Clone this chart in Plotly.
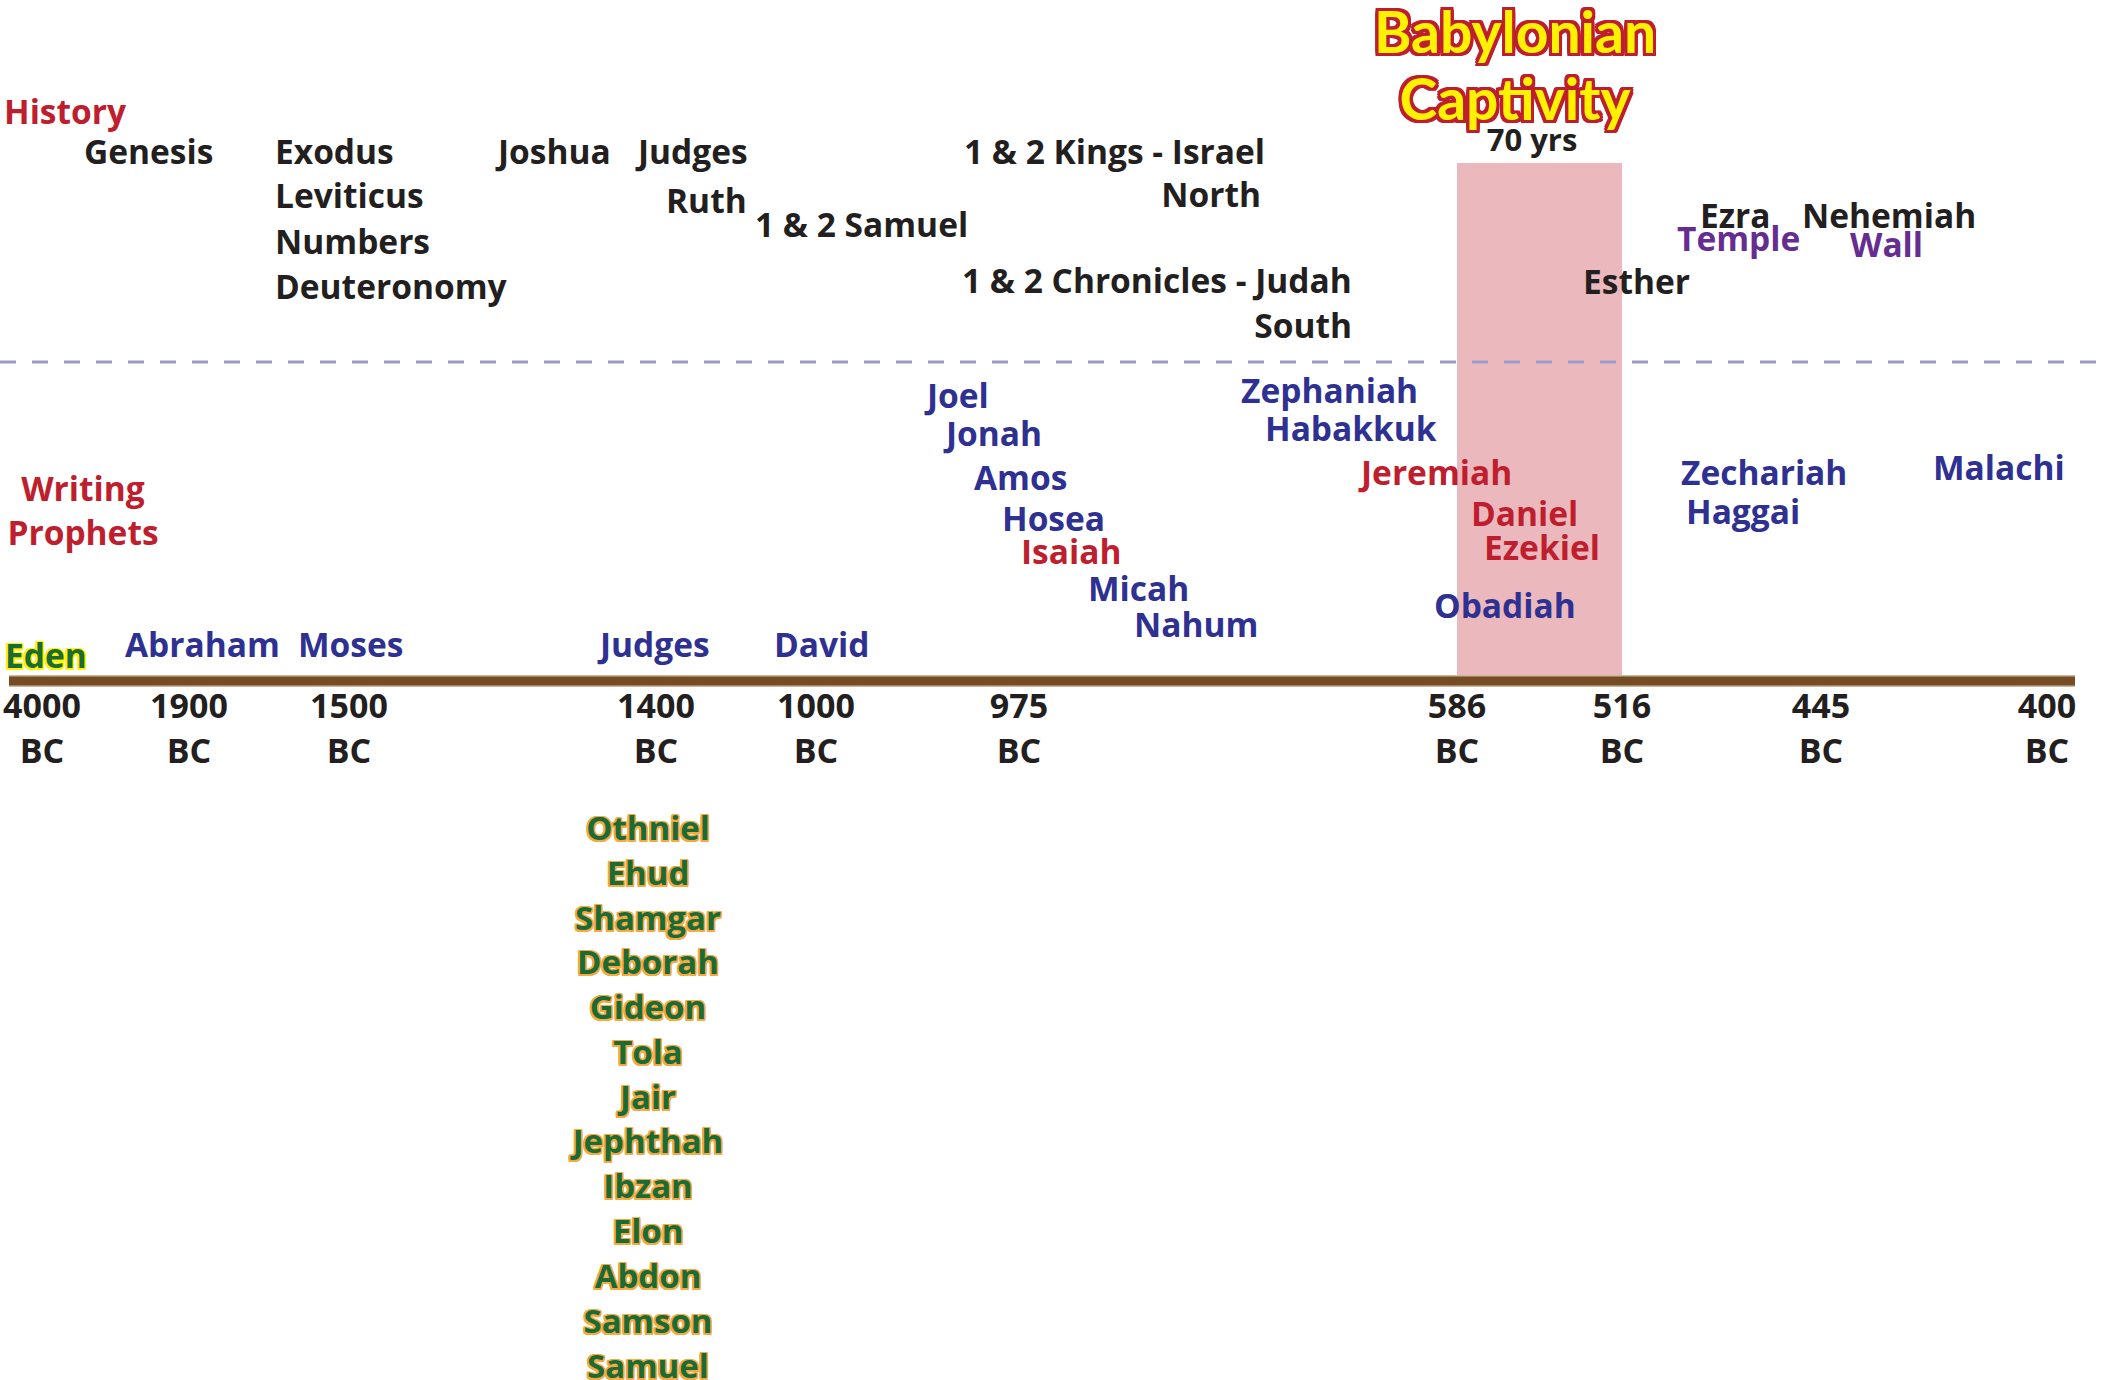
import plotly.graph_objects as go

# ---------------- data ----------------
# Timeline ticks (label text) and their positions on the layout axis
tick_years = ["4000", "1900", "1500", "1400", "1000", "975", "586", "516", "445", "400"]
tick_era = ["BC"] * len(tick_years)
tick_x = [42, 189, 349, 656, 816, 1019, 1457, 1622, 1821, 2047]

# History books (black)
history_books = ["Genesis", "Exodus", "Leviticus", "Numbers", "Deuteronomy", "Joshua",
                 "Judges", "Ruth", "1 & 2 Samuel", "1 & 2 Kings - Israel",
                 "1 & 2 Chronicles - Judah", "Esther", "Ezra", "Nehemiah"]
history_x = [84, 275, 275, 275, 275, 498, 638, 666, 755, 964, 962, 1583, 1700, 1802]
history_y = [152, 152, 196, 242, 287, 152, 152, 201, 225, 152, 281, 282, 216, 216]

# Right-aligned kingdom notes
kingdom_notes = ["North", "South"]
kingdom_x = [1261, 1352]
kingdom_y = [195, 326]

# Rebuilding notes (purple)
rebuild_notes = ["Temple", "Wall"]
rebuild_x = [1677, 1850]
rebuild_y = [239, 245]

# Writing prophets
prophets_blue = ["Joel", "Jonah", "Amos", "Hosea", "Micah", "Nahum", "Zephaniah",
                 "Habakkuk", "Obadiah", "Zechariah", "Haggai", "Malachi"]
prophets_blue_x = [927, 946, 974, 1002, 1088, 1134, 1241, 1265, 1434, 1681, 1686, 1933]
prophets_blue_y = [396, 434, 478, 519, 589, 625, 391, 429, 606, 473, 512, 468]

prophets_red = ["Isaiah", "Jeremiah", "Daniel", "Ezekiel"]
prophets_red_x = [1021, 1361, 1471, 1484]
prophets_red_y = [552, 473, 514, 548]

# People on the timeline
people = ["Abraham", "Moses", "Judges", "David"]
people_x = [125, 298, 600, 774]
people_y = [645, 645, 645, 645]

# Judges list
judges = ["Othniel", "Ehud", "Shamgar", "Deborah", "Gideon", "Tola", "Jair",
          "Jephthah", "Ibzan", "Elon", "Abdon", "Samson", "Samuel"]
judges_y = [828, 873, 918, 962, 1007, 1052, 1097, 1141, 1186, 1231, 1276, 1321, 1366]
judges_x = [648] * len(judges)

# Section headings
headings = ["History", "Writing", "Prophets"]

# ---------------- layout constants ----------------
W, H = 2107, 1380
TEXT_DY = 4              # baseline correction for vertically centred text
BAR_Y = 681
BAR_X0, BAR_X1 = 9, 2075
DASH_Y = 362
CAPT_TOP = 163
FONT = "Open Sans, Roboto, sans-serif"
MAIN_SIZE = 33.5
BLACK = "#231f20"
RED = "#be1e2d"
BLUE = "#2e3192"
PURPLE = "#662d91"


def outline(c, w=2.0):
    dirs = [(-1, -1), (0, -1), (1, -1), (1, 0), (1, 1), (0, 1), (-1, 1), (-1, 0),
            (-0.5, -1), (0.5, -1), (-0.5, 1), (0.5, 1), (-1, -0.5), (-1, 0.5), (1, -0.5), (1, 0.5)]
    return ", ".join(f"{dx * w:g}px {dy * w:g}px 0 {c}" for dx, dy in dirs)


fig = go.Figure()

# Babylonian captivity band (586 BC -> 516 BC)
cx0, cx1 = tick_x[tick_years.index("586")], tick_x[tick_years.index("516")]
fig.add_trace(go.Scatter(
    x=[cx0, cx1, cx1, cx0, cx0],
    y=[CAPT_TOP, CAPT_TOP, BAR_Y - 5, BAR_Y - 5, CAPT_TOP],
    mode="lines", fill="toself", fillcolor="#ebb9bd",
    line=dict(width=0, color="#ebb9bd"), hoverinfo="skip"))

# Dashed separator
fig.add_trace(go.Scatter(
    x=[0, W], y=[DASH_Y, DASH_Y], mode="lines",
    line=dict(color="#9d9bcb", width=3, dash="16px,16px"), hoverinfo="skip"))

# Timeline bar (light edge + brown core)
fig.add_trace(go.Scatter(
    x=[BAR_X0, BAR_X1], y=[BAR_Y, BAR_Y], mode="lines",
    line=dict(color="#cdb8a0", width=12), hoverinfo="skip"))
fig.add_trace(go.Scatter(
    x=[BAR_X0, BAR_X1], y=[BAR_Y, BAR_Y], mode="lines",
    line=dict(color="#754c24", width=9), hoverinfo="skip"))


def add_text(labels, xs, ys, color, size=MAIN_SIZE, pos="middle right", family=FONT,
             shadow=None, weight="bold"):
    font = dict(family=family, size=size, color=color, weight=weight)
    if shadow:
        font["shadow"] = shadow
    fig.add_trace(go.Scatter(
        x=xs, y=[v + TEXT_DY for v in ys], text=labels, mode="text", textposition=pos,
        textfont=font, hoverinfo="skip", cliponaxis=False))


# Headings
add_text([headings[0]], [4], [112], RED)
add_text(headings[1:], [83, 83], [489, 533], RED, pos="middle center")

# History books
add_text(history_books, history_x, history_y, BLACK)
add_text(kingdom_notes, kingdom_x, kingdom_y, BLACK, pos="middle left")
add_text(rebuild_notes, rebuild_x, rebuild_y, PURPLE)

# Prophets
add_text(prophets_blue, prophets_blue_x, prophets_blue_y, BLUE)
add_text(prophets_red, prophets_red_x, prophets_red_y, RED)

# People on timeline
add_text(people, people_x, people_y, BLUE)
add_text(["Eden"], [5], [656], "#1b6b35", shadow=outline("#fff200", 1.5))

# Tick labels
add_text(tick_years, tick_x, [705] * len(tick_x), BLACK, size=34, pos="middle center")
add_text(tick_era, tick_x, [750] * len(tick_x), BLACK, size=34, pos="middle center")

# Judges list
add_text(judges, judges_x, judges_y, "#1b6b35", size=33, pos="middle center",
         shadow=outline("#f7a941", 1.5))

# Babylonian captivity title
add_text(["Babylonian", "Captivity"], [1515, 1515], [35, 102], "#fff200", size=57,
         pos="middle center", family="Lato, Open Sans, sans-serif",
         shadow=outline("#be1e2d", 3))
add_text(["70 yrs"], [1532], [139], BLACK, size=31, pos="middle center")

fig.update_layout(
    width=W, height=H,
    margin=dict(l=0, r=0, t=0, b=0),
    paper_bgcolor="white", plot_bgcolor="white",
    showlegend=False,
    xaxis=dict(range=[0, W], visible=False, fixedrange=True),
    yaxis=dict(range=[H, 0], visible=False, fixedrange=True),
)

# remove the default page margin so the figure fills the window exactly
fig.write_html("out.html",
               config={"displayModeBar": False, "staticPlot": True},
               post_script="document.body.style.margin='0';document.body.style.overflow='hidden';")
